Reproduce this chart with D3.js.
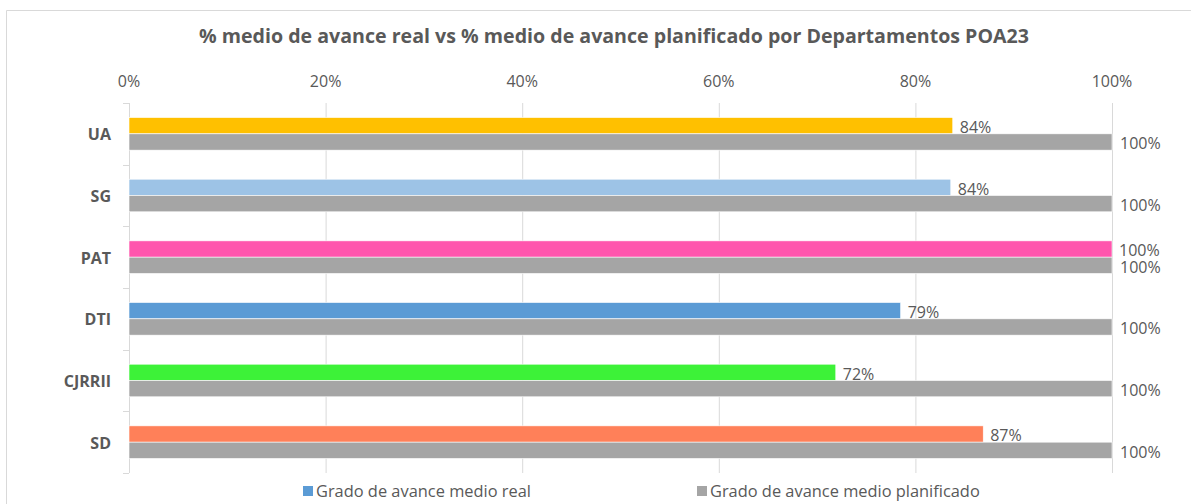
<!DOCTYPE html>
<html lang="es">
<head>
<meta charset="UTF-8">
<title>% medio de avance real vs planificado</title>
<script src="https://d3js.org/d3.v7.min.js"></script>
<style>
    body { margin: 0; background: #fff; }
    text { font-family: "Open Sans", "Noto Sans", sans-serif; fill: #595959; }
    .grid line { stroke: #d9d9d9; }
</style>
</head>
<body>
<script>
    // data
    const departamentos = ["UA", "SG", "PAT", "DTI", "CJRRII", "SD"];
    const avanceReal = [0.838, 0.836, 1.0, 0.785, 0.719, 0.869];
    const avancePlanificado = [1, 1, 1, 1, 1, 1];
    const coloresReal = ["#FFC000", "#9DC3E6", "#FF55AD", "#5B9BD5", "#3DF238", "#FF8059"];
    const colorPlan = "#A5A5A5";
    const ticks = [0, 0.2, 0.4, 0.6, 0.8, 1.0];
    const series = ["Grado de avance medio real", "Grado de avance medio planificado"];

    const W = 1191, H = 504;
    const svg = d3.select("body").append("svg").attr("width", W).attr("height", H);

    // chart frame
    svg.append("path")
        .attr("d", "M6.5," + H + " V10.5 H" + W)
        .attr("fill", "none").attr("stroke", "#d9d9d9");

    svg.append("text")
        .attr("x", 614).attr("y", 43)
        .attr("text-anchor", "middle")
        .style("font-size", "19.6px").style("font-weight", "bold")
        .text("% medio de avance real vs % medio de avance planificado por Departamentos POA23");

    const x = d3.scaleLinear().domain([0, 1]).range([129, 1112]);
    const y = d3.scaleBand().domain(departamentos).range([103, 473]).paddingInner(0).paddingOuter(0);
    const barH = 16.3;

    // vertical grid
    svg.append("g").attr("class", "grid")
        .selectAll("line").data(ticks.slice(1)).join("line")
        .attr("x1", d => x(d) + 0.5).attr("x2", d => x(d) + 0.5)
        .attr("y1", 103).attr("y2", 473);

    // top tick labels
    svg.append("g").selectAll("text").data(ticks).join("text")
        .attr("x", d => x(d)).attr("y", 87)
        .attr("text-anchor", "middle")
        .style("font-size", "16px")
        .text(d3.format(".0%"));

    // left axis with ticks between categories
    const yAxis = svg.append("g");
    yAxis.append("line")
        .attr("x1", 129.5).attr("x2", 129.5).attr("y1", 103).attr("y2", 473)
        .attr("stroke", "#d9d9d9");
    const bounds = departamentos.map(d => y(d)).concat([y.range()[1]]);
    yAxis.selectAll("line.tk").data(bounds).join("line").attr("class", "tk")
        .attr("x1", 123).attr("x2", 129)
        .attr("y1", d => Math.round(d) + 0.5).attr("y2", d => Math.round(d) + 0.5)
        .attr("stroke", "#d9d9d9");
    yAxis.selectAll("text").data(departamentos).join("text")
        .attr("x", 111).attr("y", d => y(d) + y.bandwidth() / 2 + 6.5)
        .attr("text-anchor", "end")
        .style("font-size", "16px").style("font-weight", "bold")
        .text(d => d);

    const fmt = d3.format(".0%");

    // real bars
    const cy = d => y(d) + y.bandwidth() / 2;
    svg.append("g").selectAll("rect").data(departamentos).join("rect")
        .attr("x", x(0)).attr("y", d => cy(d) - barH)
        .attr("width", (d, i) => x(avanceReal[i]) - x(0)).attr("height", barH)
        .attr("fill", (d, i) => coloresReal[i])
        .attr("stroke", "#fff").attr("stroke-width", 0.6);

    // planned bars
    svg.append("g").selectAll("rect").data(departamentos).join("rect")
        .attr("x", x(0)).attr("y", d => cy(d))
        .attr("width", (d, i) => x(avancePlanificado[i]) - x(0)).attr("height", barH)
        .attr("fill", colorPlan)
        .attr("stroke", "#fff").attr("stroke-width", 0.6);

    // labels
    svg.append("g").selectAll("text").data(departamentos).join("text")
        .attr("x", (d, i) => x(avanceReal[i]) + 7).attr("y", d => cy(d) - 1)
        .style("font-size", "16px")
        .text((d, i) => fmt(avanceReal[i]));
    svg.append("g").selectAll("text").data(departamentos).join("text")
        .attr("x", (d, i) => x(avancePlanificado[i]) + 8).attr("y", d => cy(d) + 15.5)
        .style("font-size", "16px")
        .text((d, i) => fmt(avancePlanificado[i]));

    // legend
    const legX = [303, 697];
    const legColors = ["#5B9BD5", colorPlan];
    const leg = svg.append("g").selectAll("g").data(series).join("g")
        .attr("transform", (d, i) => "translate(" + legX[i] + ",486)");
    leg.append("rect").attr("width", 10).attr("height", 10).attr("fill", (d, i) => legColors[i]);
    leg.append("text").attr("x", 13).attr("y", 11)
        .style("font-size", "16.4px")
        .text(d => d);
</script>
</body>
</html>
